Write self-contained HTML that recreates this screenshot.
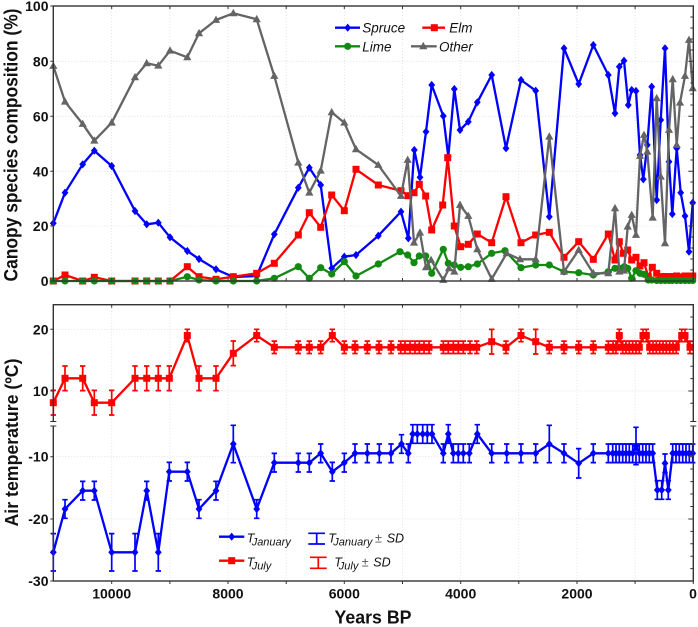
<!DOCTYPE html>
<html><head><meta charset="utf-8"><style>
html,body{margin:0;padding:0;background:#fff;}
svg{display:block;font-family:"Liberation Sans",Arial,sans-serif;}
</style></head><body>
<svg width="698" height="627" viewBox="0 0 698 627" xmlns="http://www.w3.org/2000/svg">
<defs>
<marker id="mS" viewBox="-6 -6 12 12" markerWidth="12" markerHeight="12" refX="0" refY="0" markerUnits="userSpaceOnUse"><path d="M0,-4.1L3.4,0L0,4.1L-3.4,0Z" fill="#0000ff"/></marker>
<marker id="mE" viewBox="-6 -6 12 12" markerWidth="12" markerHeight="12" refX="0" refY="0" markerUnits="userSpaceOnUse"><rect x="-3.5" y="-3.5" width="7" height="7" fill="#ff0000"/></marker>
<marker id="mL" viewBox="-6 -6 12 12" markerWidth="12" markerHeight="12" refX="0" refY="0" markerUnits="userSpaceOnUse"><circle r="3.6" fill="#128a12"/></marker>
<marker id="mO" viewBox="-6 -6 12 12" markerWidth="12" markerHeight="12" refX="0" refY="0" markerUnits="userSpaceOnUse"><path d="M0,-4.4L4.1,2.9L-4.1,2.9Z" fill="#646464"/></marker>
<marker id="ebJ1" viewBox="-10 -25 20 50" markerWidth="20" markerHeight="50" refX="0" refY="0" markerUnits="userSpaceOnUse"><path d="M0,-9.3V9.3M-2.7,-9.3H2.7M-2.7,9.3H2.7" stroke="#0000ff" stroke-width="1.7" fill="none"/></marker>
<marker id="ebJ3" viewBox="-10 -25 20 50" markerWidth="20" markerHeight="50" refX="0" refY="0" markerUnits="userSpaceOnUse"><path d="M0,-18.7V18.7M-2.7,-18.7H2.7M-2.7,18.7H2.7" stroke="#0000ff" stroke-width="1.7" fill="none"/></marker>
<marker id="ebR1" viewBox="-10 -25 20 50" markerWidth="20" markerHeight="50" refX="0" refY="0" markerUnits="userSpaceOnUse"><path d="M0,-6.2V6.2M-2.7,-6.2H2.7M-2.7,6.2H2.7" stroke="#ff0000" stroke-width="1.7" fill="none"/></marker>
<marker id="ebR2" viewBox="-10 -25 20 50" markerWidth="20" markerHeight="50" refX="0" refY="0" markerUnits="userSpaceOnUse"><path d="M0,-12.3V12.3M-2.7,-12.3H2.7M-2.7,12.3H2.7" stroke="#ff0000" stroke-width="1.7" fill="none"/></marker>
</defs>

<!-- gridlines -->
<g stroke="#dcdcdc" stroke-width="0.8" stroke-dasharray="1,2" fill="none">
<path d="M53.3,61.3H693.3M53.3,116.3H693.3M53.3,171.3H693.3M53.3,226H693.3"/>
<path d="M111.7,6V281M169.9,6V281M228,6V281M286.2,6V281M344.3,6V281M402.5,6V281M460.7,6V281M518.8,6V281M577,6V281M635.1,6V281"/>
<path d="M53.3,329.3H693.3M53.3,391H693.3M53.3,456.7H693.3M53.3,519H693.3"/>
<path d="M111.7,304.7V581M169.9,304.7V581M228,304.7V581M286.2,304.7V581M344.3,304.7V581M402.5,304.7V581M460.7,304.7V581M518.8,304.7V581M577,304.7V581M635.1,304.7V581"/>
</g>

<!-- top panel series -->
<g fill="none" stroke-width="2.3" stroke-linejoin="round">
<polyline stroke="#0000ff" marker-start="url(#mS)" marker-mid="url(#mS)" marker-end="url(#mS)" points="53.3,223.3 65,192.7 82.7,164.3 94.3,150.7 111.7,166 135,211 146.7,224.3 158.3,222.7 170,237.3 187.3,251 199,259 216,269.3 233.3,277 256.7,276 274.3,234.3 298.3,187.7 309.3,167.7 320.7,185 331.7,268.3 344.3,256.7 356,255 378.3,235.7 401,211.7 408.3,238.3 414.3,150 420,177.3 426,131.7 431.7,85 443.3,116 448.3,156.7 454.3,89 460,130 468.3,121.7 477.3,102.3 491.7,75 506,148.3 521,80 535.7,90.7 549.3,216.7 564,48.3 578.7,84 593.3,45 608.3,75 615,113.3 619.3,66.7 624,60.7 628.3,105 631.7,90 636,91 640,155 643.3,179.3 647.3,145 651.7,86.7 656.7,200 660.7,120 665,48.3 669,161.7 672.3,214 676.7,148.3 680.7,192.7 685,216 689,251.7 692.7,202.7"/>
<polyline stroke="#ff0000" marker-start="url(#mE)" marker-mid="url(#mE)" marker-end="url(#mE)" points="53.3,281 65,275 82.7,281 94.3,277.3 111.7,281 135,281 146.7,281 158.3,281 170,281 187.3,266.7 199,276.7 216,279.3 233.3,276.7 256.7,273.3 274.3,263.3 298.3,235 309.3,212.7 320.7,227.3 331.7,195 344.3,210.7 356,169.3 378.3,185 401,190.7 408,195.7 414,192.7 419.3,184.3 425.7,196 431.7,230 442.7,205 447.7,157.7 454.3,226 460.7,246.7 468.3,244.3 477.3,234 491.7,242.7 506,196.7 521,242.7 535.7,235 549.3,232.3 564,257.3 578.7,241.7 593.3,259.3 608.3,234 615,260 619.3,241.7 623.3,253.3 627.7,250 631.7,260 636,257.3 640,266 644,262.7 648.3,276.7 652.3,267.3 656.7,273.3 660.7,276.7 665,276.5 669,277 672.3,276.5 676.7,276 680.7,277 685,276 689,276 692.7,276"/>
<polyline stroke="#128a12" marker-start="url(#mL)" marker-mid="url(#mL)" marker-end="url(#mL)" points="53.3,281 65,281 82.7,281 94.3,281 111.7,281 135,281 146.7,281 158.3,281 170,281 187.3,276.7 199,280 216,281 233.3,281 256.7,281 274.3,278.3 298.3,266.7 309.3,278.3 320.7,267.7 331.7,274 344.3,261.7 356,276 378.3,264 400,251.7 407.7,255 414,262.7 419.3,256 425.7,256 431.7,273.3 443.3,249.3 448.3,263.3 454.3,265 460.7,267.3 468.3,266.7 477.3,264 491.7,253.3 505,250.7 521,267.7 535.7,265 549.3,265 564,271.7 578.7,272.7 593.3,275 608.3,271.7 615,268.3 619.3,268.3 624.3,266.7 627.7,268.3 631.7,278.3 636,270.7 640,273.3 644,274.3 648.3,280 651.7,280 656.7,280.5 660.7,280.5 665,280.5 669,280.5 672.3,280.5 676.7,280.5 680.7,280.5 685,280.5 689,280.5 692.7,280.5"/>
<polyline stroke="#646464" marker-start="url(#mO)" marker-mid="url(#mO)" marker-end="url(#mO)" points="53.3,66 65,101.7 82.7,124 94.3,140.7 111.7,122.7 135,77.3 146.7,63.3 158.3,65.7 170,50.7 187.3,57.3 199,33.3 216,20 233.3,13.3 256.7,19.3 274.3,76 298.3,162.7 309.3,192.7 320.7,170.7 331.7,112.3 344.3,122.7 356,149.3 378.3,165 401,196 407.7,160 414,242.7 420,232.7 426,267.3 431,260 443.3,280 449,268.3 454.3,271.7 460,205 468.3,216 477.3,249.3 491.7,279 506.7,253.3 520,259.3 535.7,259.3 549.3,136.7 564,271.7 578.7,250 593.3,273.3 608.3,273.3 615,208.3 619.3,271.7 624,270.7 627.7,226.7 631.7,215 636,235 640,156 644,135 647.3,151.7 652.7,217.7 656.7,98.3 660.7,176.7 665,243.3 669,130 672.7,79.3 676.7,145 680,102.7 685,76 689,40 692.7,88.3"/>
</g>

<!-- bottom panel: error bars -->
<g fill="none" stroke="none">
<polyline marker-start="url(#ebR2)" marker-mid="url(#ebR2)" marker-end="url(#ebR2)" points="53.3,402.7 65,378.3 82.7,378.3 94.3,402.7 111.7,402.7 135,378.3 146.7,378.3 158.3,378.3 169.3,378.3 199,378.3 216,378.3 233.3,353.3 491.7,341.7 535.7,341.7"/>
<polyline marker-start="url(#ebR1)" marker-mid="url(#ebR1)" marker-end="url(#ebR1)" points="187.3,335.5 256.7,335.5 274.3,347.3 298.3,347.3 309.3,347.3 320.7,347.3 332.3,335.5 344.3,347.3 355,347.3 367.3,347.3 379,347.3 391,347.3 400.7,347.3 405,347.3 410,347.3 415,347.3 419.3,347.3 424,347.3 429,347.3 443.3,347.3 448.3,347.3 453.3,347.3 458.3,347.3 463.3,347.3 470,347.3 476.7,347.3 506,347.3 521,335.5 549.3,347.3 564,347.3 578.7,347.3 593.3,347.3 608.3,347.3 613,347.3 616,347.3 619.3,335.5 622.7,347.3 626,347.3 629.3,347.3 632.7,347.3 636,347.3 639.3,347.3 643,335.5 646.3,335.5 649.7,347.3 653,347.3 656.3,347.3 659.7,347.3 663,347.3 666.3,347.3 669.7,347.3 673,347.3 676.3,347.3 681.7,335.5 685,335.5 690,347.3"/>
<polyline marker-start="url(#ebJ3)" marker-mid="url(#ebJ3)" marker-end="url(#ebJ3)" points="53.3,552.3 111.7,552.3 135,552.3 158.3,552.3 233.3,444 549.3,444 636,446"/>
<polyline marker-start="url(#ebJ1)" marker-mid="url(#ebJ1)" marker-end="url(#ebJ1)" points="65,509 82.7,490.7 94.3,490.7 146.7,490.7 169.3,471.7 187.3,471.7 199,509 216,490.7 256.7,509 274.3,462.7 298.3,462.7 309.3,462.7 320.7,453.3 332.3,471.7 344.3,462.7 355,453.3 367.3,453.3 379.3,453.3 391,453.3 401.5,444 408.3,453.3 412.7,434 417.3,434 422.7,434 427.3,434 432,434 443.3,453.3 448.3,434 453.3,453.3 458.3,453.3 463.3,453.3 469.3,453.3 477.3,434 491.7,453.3 506.7,453.3 521,453.3 535.7,453.3 564,453.3 593.3,453.3 608.3,453.3 612.7,453.3 616,453.3 619.3,453.3 622.7,453.3 626,453.3 629.3,453.3 632.7,453.3 639.3,453.3 642.7,453.3 646,453.3 649.3,453.3 652.7,453.3 657.3,490 661.7,490 665,463.3 668.3,490 672.7,453.3 676,453.3 679.3,453.3 682.7,453.3 686,453.3 689.3,453.3 692.7,453.3"/>
</g>
<path d="M578.7,448.6V478M576,448.6H581.4M576,478H581.4" stroke="#0000ff" stroke-width="1.7" fill="none"/>

<!-- bottom panel series -->
<g fill="none" stroke-width="2.3" stroke-linejoin="round">
<polyline stroke="#ff0000" marker-start="url(#mE)" marker-mid="url(#mE)" marker-end="url(#mE)" points="53.3,402.7 65,378.3 82.7,378.3 94.3,402.7 111.7,402.7 135,378.3 146.7,378.3 158.3,378.3 169.3,378.3 187.3,335.5 199,378.3 216,378.3 233.3,353.3 256.7,335.5 274.3,347.3 298.3,347.3 309.3,347.3 320.7,347.3 332.3,335.5 344.3,347.3 355,347.3 367.3,347.3 379,347.3 391,347.3 400.7,347.3 405,347.3 410,347.3 415,347.3 419.3,347.3 424,347.3 429,347.3 443.3,347.3 448.3,347.3 453.3,347.3 458.3,347.3 463.3,347.3 470,347.3 476.7,347.3 491.7,341.7 506,347.3 521,335.5 535.7,341.7 549.3,347.3 564,347.3 578.7,347.3 593.3,347.3 608.3,347.3 613,347.3 616,347.3 619.3,335.5 622.7,347.3 626,347.3 629.3,347.3 632.7,347.3 636,347.3 639.3,347.3 643,335.5 646.3,335.5 649.7,347.3 653,347.3 656.3,347.3 659.7,347.3 663,347.3 666.3,347.3 669.7,347.3 673,347.3 676.3,347.3 681.7,335.5 685,335.5 690,347.3"/>
<polyline stroke="#0000ff" marker-start="url(#mS)" marker-mid="url(#mS)" marker-end="url(#mS)" points="53.3,552.3 65,509 82.7,490.7 94.3,490.7 111.7,552.3 135,552.3 146.7,490.7 158.3,552.3 169.3,471.7 187.3,471.7 199,509 216,490.7 233.3,444 256.7,509 274.3,462.7 298.3,462.7 309.3,462.7 320.7,453.3 332.3,471.7 344.3,462.7 355,453.3 367.3,453.3 379.3,453.3 391,453.3 401.5,444 408.3,453.3 412.7,434 417.3,434 422.7,434 427.3,434 432,434 443.3,453.3 448.3,434 453.3,453.3 458.3,453.3 463.3,453.3 469.3,453.3 477.3,434 491.7,453.3 506.7,453.3 521,453.3 535.7,453.3 549.3,444 564,453.3 578.7,463.3 593.3,453.3 608.3,453.3 612.7,453.3 616,453.3 619.3,453.3 622.7,453.3 626,453.3 629.3,453.3 632.7,453.3 636,446 639.3,453.3 642.7,453.3 646,453.3 649.3,453.3 652.7,453.3 657.3,490 661.7,490 665,463.3 668.3,490 672.7,453.3 676,453.3 679.3,453.3 682.7,453.3 686,453.3 689.3,453.3 692.7,453.3"/>
</g>

<!-- frames -->
<g fill="none" stroke="#333" stroke-width="1.4">
<rect x="53.3" y="6" width="640" height="275"/>
<rect x="53.3" y="304.7" width="640" height="276.3"/>
</g>
<!-- ticks -->
<g stroke="#333" stroke-width="1" fill="none">
<path d="M111.7,6v3M169.9,6v3M228,6v3M286.2,6v3M344.3,6v3M402.5,6v3M460.7,6v3M518.8,6v3M577,6v3M635.1,6v3"/>
<path d="M111.7,281v-3M169.9,281v-3M228,281v-3M286.2,281v-3M344.3,281v-3M402.5,281v-3M460.7,281v-3M518.8,281v-3M577,281v-3M635.1,281v-3"/>
<path d="M693.3,17h-3M693.3,28h-3M693.3,39h-3M693.3,50h-3M693.3,61.3h-5M693.3,72h-3M693.3,83h-3M693.3,94h-3M693.3,105h-3M693.3,116.3h-5M693.3,127h-3M693.3,138h-3M693.3,149h-3M693.3,160h-3M693.3,171.3h-5M693.3,182h-3M693.3,193h-3M693.3,204h-3M693.3,215h-3M693.3,226h-5M693.3,237h-3M693.3,248h-3M693.3,259h-3M693.3,270h-3"/>
<path d="M53.3,61.3h-3M53.3,116.3h-3M53.3,171.3h-3M53.3,226h-3M53.3,6h-3M53.3,281h-3"/>
<path d="M111.7,581v3M169.9,581v3M228,581v3M286.2,581v3M344.3,581v3M402.5,581v3M460.7,581v3M518.8,581v3M577,581v3M635.1,581v3M693.3,581v3"/>
<path d="M111.7,304.7v3M169.9,304.7v3M228,304.7v3M286.2,304.7v3M344.3,304.7v3M402.5,304.7v3M460.7,304.7v3M518.8,304.7v3M577,304.7v3M635.1,304.7v3"/>
<path d="M693.3,317h-3M693.3,329.3h-5M693.3,341.6h-3M693.3,354h-3M693.3,366.3h-3M693.3,378.6h-3M693.3,391h-5M693.3,403.3h-3M693.3,469h-3M693.3,481.6h-3M693.3,494h-3M693.3,506.5h-3M693.3,519h-5M693.3,531.4h-3M693.3,543.8h-3M693.3,556.3h-3M693.3,568.6h-3M693.3,444.3h-3M693.3,456.7h-5"/>
<path d="M53.3,329.3h-3M53.3,391h-3M53.3,456.7h-3M53.3,519h-3M53.3,581h-3"/>
</g>
<!-- axis break -->
<rect x="51" y="421.5" width="5" height="4.5" fill="#fff"/>
<rect x="691" y="421.5" width="5" height="4.5" fill="#fff"/>
<g stroke="#333" stroke-width="1.1">
<path d="M50.3,421.5H56.3M50.3,426H56.3M690.3,421.5H696.3M690.3,426H696.3"/>
</g>

<!-- tick labels -->
<g font-size="14" font-weight="bold" fill="#111" text-anchor="end">
<text x="48.5" y="11">100</text>
<text x="48.5" y="66.3">80</text>
<text x="48.5" y="121.3">60</text>
<text x="48.5" y="176.3">40</text>
<text x="48.5" y="231">20</text>
<text x="48.5" y="286">0</text>
<text x="48.5" y="334.3">20</text>
<text x="48.5" y="396">10</text>
<text x="48.5" y="461.7">-10</text>
<text x="48.5" y="524">-20</text>
<text x="48.5" y="586">-30</text>
</g>
<g font-size="14" font-weight="bold" fill="#111" text-anchor="middle">
<text x="111.7" y="598.5">10000</text>
<text x="228" y="598.5">8000</text>
<text x="344.3" y="598.5">6000</text>
<text x="460.7" y="598.5">4000</text>
<text x="577" y="598.5">2000</text>
<text x="693" y="598.5">0</text>
</g>

<!-- axis titles -->
<text x="373" y="623.3" font-size="18.6" font-weight="bold" fill="#111" text-anchor="middle" textLength="77" lengthAdjust="spacingAndGlyphs">Years BP</text>
<text transform="translate(17.3,145) rotate(-90)" font-size="19" font-weight="bold" fill="#111" text-anchor="middle" textLength="273" lengthAdjust="spacingAndGlyphs">Canopy species composition (%)</text>
<text transform="translate(17.8,442.5) rotate(-90)" font-size="18.5" font-weight="bold" fill="#111" text-anchor="middle" textLength="168" lengthAdjust="spacingAndGlyphs">Air temperature (ºC)</text>

<!-- top legend -->
<g stroke-width="2.3">
<line x1="335" y1="27.7" x2="360" y2="27.7" stroke="#0000ff"/>
<line x1="422.3" y1="27.7" x2="445" y2="27.7" stroke="#ff0000"/>
<line x1="335" y1="46.3" x2="360" y2="46.3" stroke="#128a12"/>
<line x1="411" y1="46.3" x2="436.7" y2="46.3" stroke="#646464"/>
</g>
<path d="M347.7,23.6L351.1,27.7L347.7,31.8L344.3,27.7Z" fill="#0000ff"/>
<rect x="430.8" y="24.2" width="7" height="7" fill="#ff0000"/>
<circle cx="347.7" cy="46.3" r="3.6" fill="#128a12"/>
<path d="M423.3,41.9L427.4,49.2L419.2,49.2Z" fill="#646464"/>
<g font-size="13.5" font-style="italic" fill="#111">
<text x="362.3" y="32.7">Spruce</text>
<text x="449.3" y="32.7">Elm</text>
<text x="362.3" y="51.3">Lime</text>
<text x="439" y="51.3">Other</text>
</g>

<!-- bottom legend -->
<g stroke-width="2.3">
<line x1="219" y1="536.7" x2="244.3" y2="536.7" stroke="#0000ff"/>
<line x1="219" y1="560.7" x2="244.3" y2="560.7" stroke="#ff0000"/>
</g>
<path d="M231.7,532.6L235.1,536.7L231.7,540.8L228.3,536.7Z" fill="#0000ff"/>
<rect x="228.2" y="557.2" width="7" height="7" fill="#ff0000"/>
<path d="M308.3,533.3H325M316.7,533.3V544M308.3,544H325" stroke="#0000ff" stroke-width="1.7" fill="none"/>
<path d="M310,557.3H326.7M318.3,557.3V568.3M310,568.3H326.7" stroke="#ff0000" stroke-width="1.7" fill="none"/>
<g font-style="italic" fill="#111">
<text x="246.7" y="542.7" font-size="12.5">T<tspan x="251.7" dy="3" font-size="11">January</tspan></text>
<text x="246.7" y="566.7" font-size="12.5">T<tspan x="251.7" dy="3" font-size="11">July</tspan></text>
<text x="328.3" y="542.7" font-size="12.5">T<tspan x="333.3" dy="3" font-size="11">January</tspan><tspan x="375" dy="-3" font-size="12.5" fill="#555">±</tspan><tspan x="386.7" font-size="12.5">SD</tspan></text>
<text x="334.3" y="566.7" font-size="12.5">T<tspan x="338.8" dy="3" font-size="11">July</tspan><tspan x="361.7" dy="-3" font-size="12.5" fill="#555">±</tspan><tspan x="373.3" font-size="12.5">SD</tspan></text>
</g>
</svg>
</body></html>
